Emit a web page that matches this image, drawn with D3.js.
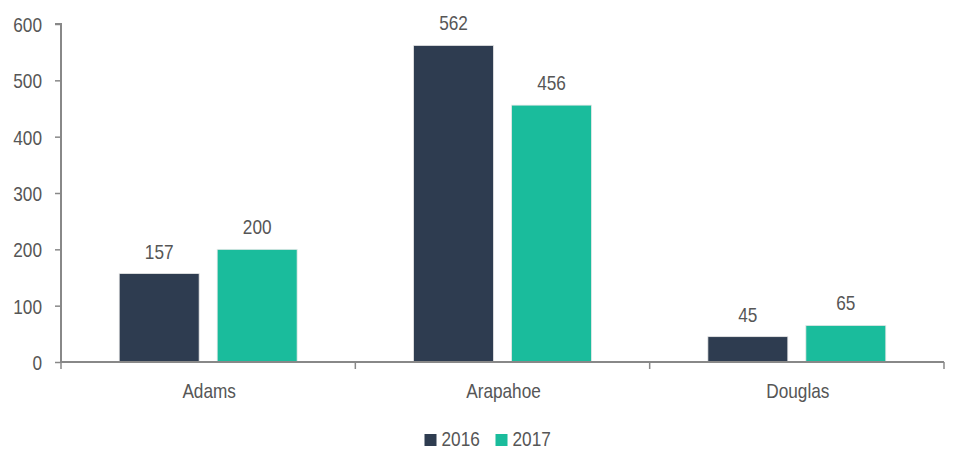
<!DOCTYPE html>
<html><head><meta charset="utf-8">
<script src="https://cdn.jsdelivr.net/npm/d3@7"></script>
<style>
body{margin:0;background:#fff;}
text{font-family:"Liberation Sans",Arial,sans-serif;fill:#565656;font-size:21px;}
</style></head>
<body><svg id="c" width="953" height="449"></svg>
<script>
const categories = ["Adams","Arapahoe","Douglas"];
const seriesNames = ["2016","2017"];
const values2016 = [157,562,45];
const values2017 = [200,456,65];
const yTicks = [0,100,200,300,400,500,600];
const colors = ["#2E3C50","#1ABC9C"];

const SX = 0.82; // narrow font emulation
const svg = d3.select("#c");
function addText(parent, x, y, str, anchor){
  return parent.append("text").attr("transform",`translate(${x},${y}) scale(${SX},1)`)
    .attr("text-anchor",anchor||"start").text(str);
}

const m = {l:61, r:9, t:24, b:87};
const x0 = d3.scaleBand().domain(categories).range([m.l, 944]).paddingInner(0).paddingOuter(0);
const x1 = d3.scaleBand().domain(seriesNames).range([0, x0.bandwidth()]).paddingInner(0.184).paddingOuter(0.594);
const y = d3.scaleLinear().domain([0,600]).range([362, 24]);

const data = categories.map((c,i)=>({cat:c, vals:[values2016[i], values2017[i]]}));

// y axis
const yAxis = d3.axisLeft(y).tickValues(yTicks).tickSize(6).tickPadding(13);
const gy = svg.append("g").attr("transform",`translate(${m.l},0)`).call(yAxis);
gy.attr("font-family",null).attr("font-size",null);
gy.select(".domain").attr("stroke","#888").attr("stroke-width",2).attr("d",`M-6,${y(600)}H0V${y(0)}`);
gy.selectAll(".tick line").attr("stroke","#888").attr("stroke-width",1.5);
gy.selectAll(".tick text").attr("fill","#565656").attr("x",-19/SX).attr("dy","0.36em").attr("transform",`scale(${SX},1)`);

// bars
const g = svg.append("g");
data.forEach(d=>{
  d.vals.forEach((v,j)=>{
    const xx = x0(d.cat)+x1(seriesNames[j]);
    g.append("rect").attr("x",xx).attr("y",y(v)).attr("width",x1.bandwidth()).attr("height",y(0)-y(v))
      .attr("fill",colors[j]).attr("stroke","#e8e8e8").attr("stroke-width",0.8);
    addText(g, xx+x1.bandwidth()/2, y(v)-15, v, "middle");
  });
});

// x axis
const gx = svg.append("g").attr("transform",`translate(0,${y(0)})`);
gx.append("line").attr("x1",m.l).attr("x2",944).attr("stroke","#888").attr("stroke-width",2);
const bounds = categories.map(c=>x0(c)).concat([x0(categories[categories.length-1])+x0.bandwidth()]);
bounds.forEach(b=>gx.append("line").attr("x1",b).attr("x2",b).attr("y1",0).attr("y2",7).attr("stroke","#888").attr("stroke-width",1.5));
categories.forEach(c=>addText(gx, x0(c)+x0.bandwidth()/2+1, 36, c, "middle"));

// legend
const leg = svg.append("g");
const legX = [424.5, 495.5];
seriesNames.forEach((s,j)=>{
  leg.append("rect").attr("x",legX[j]).attr("y",434).attr("width",12).attr("height",12).attr("fill",colors[j]);
  addText(leg, legX[j]+17, 446, s, "start");
});
</script></body></html>
